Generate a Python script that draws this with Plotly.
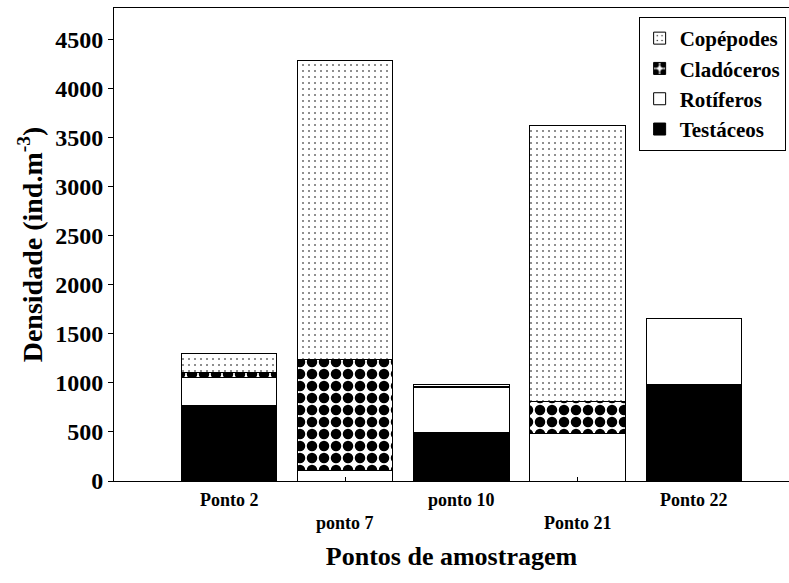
import plotly.graph_objects as go

categories = ["Ponto 2", "ponto 7", "ponto 10", "Ponto 21", "Ponto 22"]
label_row = [0, 1, 0, 1, 0]  # staggered tick labels
testaceos = [774, 0, 489, 0, 978]
rotiferos = [278, 112, 461, 479, 672]
cladoceros = [48, 1130, 14, 329, 0]
copepodes = [203, 3045, 14, 2817, 0]
y_ticks = [0, 500, 1000, 1500, 2000, 2500, 3000, 3500, 4000, 4500]

FONT = "Liberation Serif"
x = list(range(len(categories)))
line = dict(color="black", width=1)

fig = go.Figure()
fig.add_trace(go.Bar(x=x, y=testaceos, name="Testáceos",
                     marker=dict(color="black", line=line)))
fig.add_trace(go.Bar(x=x, y=rotiferos, name="Rotíferos",
                     marker=dict(color="white", line=line)))
fig.add_trace(go.Bar(x=x, y=cladoceros, name="Cladóceros",
                     marker=dict(color="white", line=line,
                                 pattern=dict(shape=".", fgcolor="black", bgcolor="white",
                                              fgopacity=1, size=12, solidity=0.6,
                                              fillmode="replace"))))
fig.add_trace(go.Bar(x=x, y=copepodes, name="Copépodes",
                     marker=dict(color="white", line=line,
                                 pattern=dict(shape=".", fgcolor="black", bgcolor="white",
                                              fgopacity=1, size=6, solidity=0.06,
                                              fillmode="replace"))))

for xi, (lab, row) in enumerate(zip(categories, label_row)):
    fig.add_annotation(x=xi, y=0, xref="x", yref="paper", text=lab,
                       showarrow=False, yanchor="middle",
                       yshift=-19 - 23 * row,
                       font=dict(family=FONT, size=18, weight="bold", color="black"))

fig.update_layout(
    barmode="stack",
    bargap=0.18,
    width=789, height=583,
    margin=dict(l=114, r=0, t=8, b=102),
    plot_bgcolor="white", paper_bgcolor="white",
    font=dict(family=FONT, color="black"),
    legend=dict(x=0.995, y=0.981, xanchor="right", yanchor="top",
                traceorder="reversed", bordercolor="black", borderwidth=1,
                bgcolor="white",
                font=dict(family=FONT, size=21, weight="bold"),
                itemwidth=30, tracegroupgap=0),
    showlegend=True,
)
fig.update_xaxes(
    range=[-0.99, 4.82],
    tickmode="array", tickvals=x, showticklabels=False,
    ticks="inside", ticklen=4, tickcolor="black",
    showline=True, linecolor="black", linewidth=1, mirror=True,
    showgrid=False, zeroline=False,
    title=dict(text="Pontos de amostragem", standoff=65,
               font=dict(family=FONT, size=26, weight="bold")),
)
fig.update_yaxes(
    range=[0, 4817],
    tickvals=y_ticks,
    ticks="outside", ticklen=5, tickcolor="black",
    showline=True, linecolor="black", linewidth=1, mirror=True,
    showgrid=False, zeroline=False,
    tickfont=dict(family=FONT, size=24, weight="bold"),
    title=dict(text="Densidade (ind.m<sup>-3</sup>)", standoff=4,
               font=dict(family=FONT, size=28, weight="bold")),
)

fig.write_html("out.html")
